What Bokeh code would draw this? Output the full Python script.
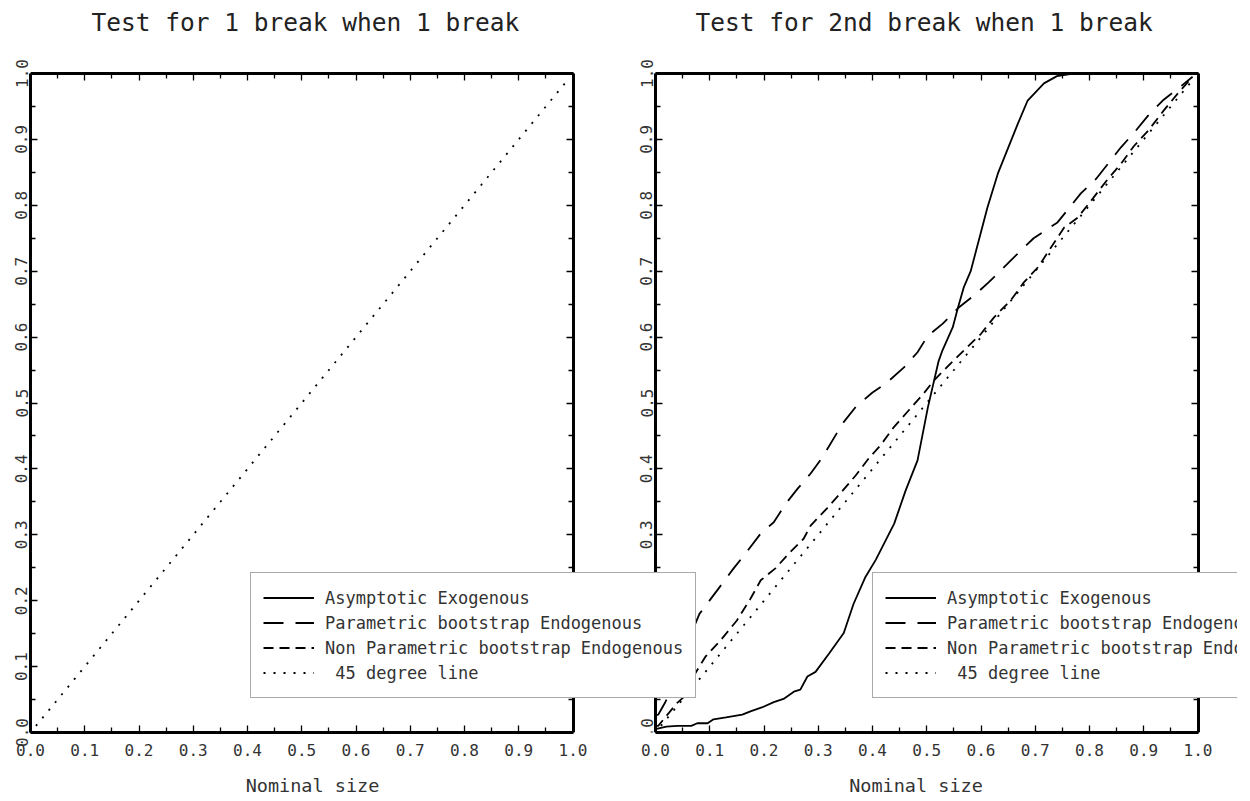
from bokeh.plotting import figure
from bokeh.models import (Legend, LegendItem, LinearAxis, FixedTicker,
                          NumeralTickFormatter, BoxAnnotation)
from bokeh.layouts import row
from bokeh.embed import file_html
from bokeh.resources import INLINE

NAN = float("nan")

# ------------------------------------------------------------------ data
titles = ["Test for 1 break when 1 break", "Test for 2nd break when 1 break"]
x_axis_label = "Nominal size"
tick_values = [0.0, 0.1, 0.2, 0.3, 0.4, 0.5, 0.6, 0.7, 0.8, 0.9, 1.0]
minor_tick_values = [0.05, 0.15, 0.25, 0.35, 0.45, 0.55, 0.65, 0.75, 0.85, 0.95]
series_labels = ["Asymptotic Exogenous",
                 "Parametric bootstrap Endogenous",
                 "Non Parametric bootstrap Endogenous",
                 " 45 degree line"]

# panel 1 : only the 45 degree line is drawn (other series not shown)
p1_asym_x, p1_asym_y = [NAN], [NAN]
p1_param_x, p1_param_y = [NAN], [NAN]
p1_nonparam_x, p1_nonparam_y = [NAN], [NAN]
p1_45_x = [0.01, 0.99]
p1_45_y = [0.01, 0.99]

# panel 2
p2_asym_x = [0.0, 0.02, 0.04, 0.066, 0.077, 0.096, 0.107, 0.13, 0.16, 0.175,
             0.196, 0.218, 0.236, 0.255, 0.267, 0.28, 0.295, 0.32, 0.347, 0.365,
             0.387, 0.406, 0.44, 0.461, 0.483, 0.502, 0.522, 0.529, 0.548, 0.557,
             0.568, 0.581, 0.612, 0.631, 0.668, 0.686, 0.716, 0.74, 0.77, 0.85,
             0.99]
p2_asym_y = [0.005, 0.009, 0.01, 0.01, 0.014, 0.014, 0.02, 0.023, 0.027, 0.032,
             0.038, 0.046, 0.051, 0.062, 0.065, 0.085, 0.092, 0.12, 0.151, 0.195,
             0.236, 0.262, 0.317, 0.367, 0.413, 0.493, 0.564, 0.58, 0.615, 0.643,
             0.675, 0.70, 0.797, 0.848, 0.924, 0.959, 0.985, 0.996, 1.0, 1.0,
             1.0]
p2_param_x = [0.0, 0.005, 0.018, 0.033, 0.052, 0.081, 0.125, 0.144, 0.17, 0.194,
              0.218, 0.24, 0.262, 0.286, 0.308, 0.345, 0.369, 0.40, 0.424, 0.458,
              0.483, 0.502, 0.529, 0.559, 0.587, 0.614, 0.64, 0.668, 0.697, 0.741,
              0.784, 0.812, 0.858, 0.882, 0.908, 0.935, 0.963, 0.99]
p2_param_y = [0.026, 0.027, 0.046, 0.072, 0.123, 0.18, 0.228, 0.249, 0.276, 0.302,
              0.319, 0.347, 0.37, 0.393, 0.418, 0.469, 0.494, 0.516, 0.529, 0.554,
              0.577, 0.602, 0.62, 0.645, 0.663, 0.683, 0.704, 0.727, 0.75, 0.774,
              0.818, 0.84, 0.888, 0.91, 0.936, 0.959, 0.977, 0.995]
p2_nonparam_x = [0.0, 0.005, 0.02, 0.04, 0.058, 0.066, 0.092, 0.12, 0.15, 0.175,
                 0.194, 0.221, 0.245, 0.273, 0.286, 0.317, 0.345, 0.369, 0.393, 0.415,
                 0.439, 0.467, 0.494, 0.513, 0.55, 0.60, 0.624, 0.655, 0.679, 0.705,
                 0.729, 0.753, 0.778, 0.803, 0.834, 0.858, 0.882, 0.908, 0.937, 0.963,
                 0.99]
p2_nonparam_y = [0.01, 0.01, 0.025, 0.045, 0.058, 0.08, 0.115, 0.14, 0.17, 0.203,
                 0.231, 0.249, 0.271, 0.294, 0.314, 0.341, 0.367, 0.39, 0.416, 0.436,
                 0.463, 0.489, 0.514, 0.534, 0.565, 0.605, 0.63, 0.656, 0.683, 0.706,
                 0.736, 0.766, 0.781, 0.807, 0.84, 0.863, 0.89, 0.913, 0.944, 0.97,
                 0.995]
p2_45_x = [0.01, 0.99]
p2_45_y = [0.01, 0.99]

# ------------------------------------------------------------------ style
MONO = "DejaVu Sans Mono"
TEXT = "#333333"
DASHES = ["solid", "20 12", "10 6", "2 8"]
FIG_H = 800
TOP = 36                  # canvas px above the frame (title only)
BOTTOM = 68               # canvas px below the frame
PX_X = 542.5              # frame pixels per unit, x
PX_Y = 659.0              # frame pixels per unit, y
SPLIT = 594               # page x where the right figure starts
RIGHT_END = 1237
BLANK = {t: "" for t in tick_values}


def style_axis(ax, show_labels):
    ax.ticker = FixedTicker(ticks=tick_values, minor_ticks=minor_tick_values)
    ax.formatter = NumeralTickFormatter(format="0.0")
    ax.bounds = (0, 1)
    ax.axis_line_width = 3
    ax.axis_line_color = "black"
    ax.major_tick_in = 7
    ax.major_tick_out = 0
    ax.minor_tick_in = 5
    ax.minor_tick_out = 0
    ax.major_tick_line_width = 1.3
    ax.minor_tick_line_width = 1.3
    ax.major_tick_line_color = "black"
    ax.minor_tick_line_color = "black"
    ax.major_label_text_font = MONO
    ax.major_label_text_color = TEXT
    ax.major_label_text_font_size = "16px"
    if not show_labels:
        ax.major_label_overrides = BLANK
        ax.major_label_standoff = 0


def make_fig(title, width, mbl, x_start_px, title_offset, series, fixed_left):
    frame_w = width - mbl
    frame_h = FIG_H - TOP - BOTTOM
    x0 = -x_start_px / PX_X
    x1 = x0 + frame_w / PX_X
    p = figure(width=width, height=FIG_H, x_range=(x0, x1),
               y_range=(0, frame_h / PX_Y),
               output_backend="svg", toolbar_location=None,
               min_border_left=mbl, min_border_right=0,
               min_border_top=TOP, min_border_bottom=BOTTOM)
    p.title.text = title
    p.title.align = "left"
    p.title.offset = title_offset
    p.title.text_font = MONO
    p.title.text_font_size = "24.5px"
    p.title.text_font_style = "normal"
    p.title.text_color = "#222222"
    p.title.standoff = 0
    p.grid.visible = False
    p.outline_line_color = None
    p.add_layout(LinearAxis(fixed_location=1.0), "above")
    p.add_layout(LinearAxis(fixed_location=1.0), "right")
    if fixed_left:
        p.yaxis[0].fixed_location = 0.0
    for ax in p.below + p.left:
        style_axis(ax, True)
    for ax in p.above + p.right:
        style_axis(ax, False)
    yl = p.left[0]
    yl.major_label_orientation = "vertical"
    yl.major_label_standoff = 3
    xb = p.below[0]
    xb.major_label_standoff = 11
    xb.axis_label = x_axis_label
    xb.axis_label_text_font = MONO
    xb.axis_label_text_font_size = "18.5px"
    xb.axis_label_text_font_style = "normal"
    xb.axis_label_text_color = TEXT
    xb.axis_label_standoff = 16
    rends = []
    for (xs, ys), dash in zip(series, DASHES):
        r = p.line(xs, ys, line_color="black", line_width=1.8, line_dash=dash)
        r.level = "overlay"
        rends.append(r)
    return p, rends


def make_legend(rends, loc):
    items = [LegendItem(label=lab, renderers=[r])
             for lab, r in zip(series_labels, rends)]
    return Legend(items=items, location=loc, margin=0, padding=12, spacing=0,
                  label_height=25, glyph_height=25, glyph_width=51,
                  label_standoff=11, label_text_font=MONO,
                  label_text_font_size="17px", label_text_color=TEXT,
                  border_line_color="#555555", border_line_width=1,
                  background_fill_color="white", background_fill_alpha=1.0)


series1 = [(p1_asym_x, p1_asym_y), (p1_param_x, p1_param_y),
           (p1_nonparam_x, p1_nonparam_y), (p1_45_x, p1_45_y)]
series2 = [(p2_asym_x, p2_asym_y), (p2_param_x, p2_param_y),
           (p2_nonparam_x, p2_nonparam_y), (p2_45_x, p2_45_y)]

# left figure: canvas 0..SPLIT, frame 30..SPLIT (x = 0 at page px 30)
p1, r1 = make_fig(titles[0], SPLIT, 30, 0, 61, series1, False)
# right figure: canvas SPLIT..RIGHT_END, x = 0 at page px 655
p2, r2 = make_fig(titles[1], RIGHT_END - SPLIT, 0, 655 - SPLIT, 695 - SPLIT,
                  series2, True)
p2.left[0].level = "overlay"

legend_bottom = 34        # px above the frame bottom
# legend of the left panel (runs over into the right panel)
p1.add_layout(make_legend(r1, (250 - 30, legend_bottom)), "center")
p2.add_layout(make_legend(r2, (250 - SPLIT, legend_bottom)), "center")
# legend of the right panel (cut at the right edge)
p2.add_layout(make_legend(r2, (872 - SPLIT, legend_bottom)), "center")
edge_x = (RIGHT_END - 0.5 - 655) / PX_X
p2.add_layout(BoxAnnotation(left=edge_x, right=edge_x,
                            bottom=legend_bottom / PX_Y,
                            top=(legend_bottom + 124) / PX_Y, fill_alpha=0,
                            line_color="#555555", line_width=1))

layout = row(p1, p2)
open("out.html", "w").write(file_html(layout, INLINE))
